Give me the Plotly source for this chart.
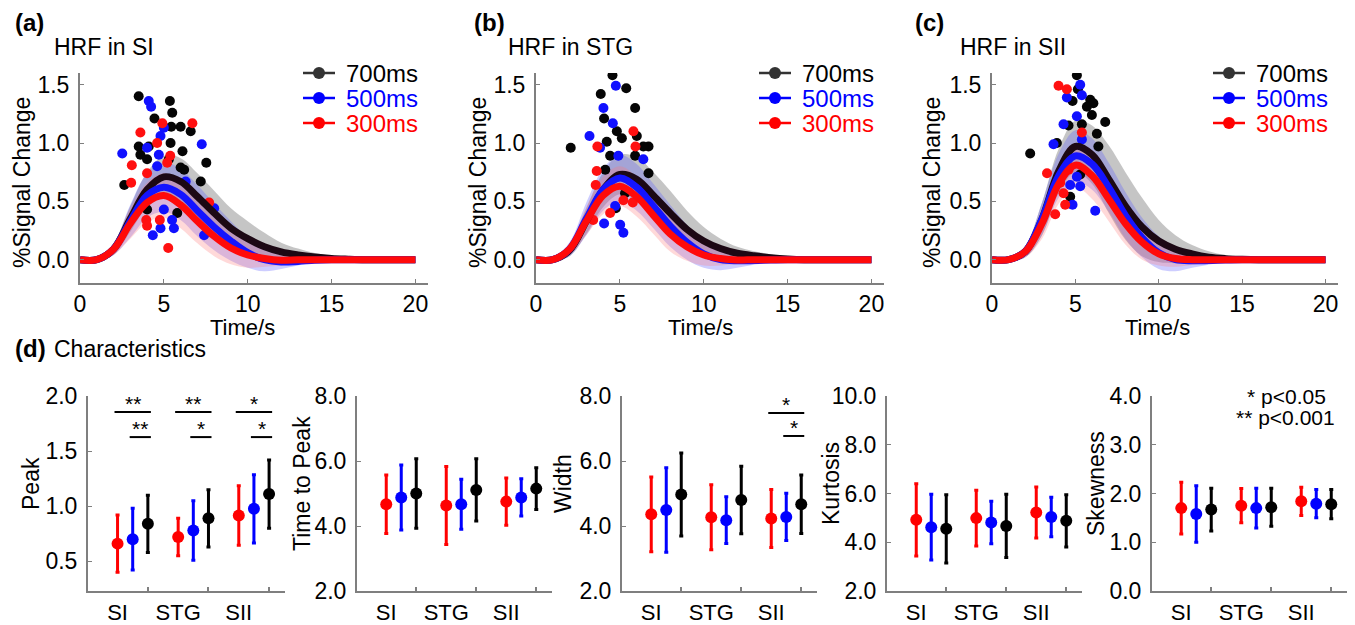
import plotly.graph_objects as go

W, H = 1355, 625
FONT = "Arial, Liberation Sans, Helvetica, sans-serif"


def px(x):
    return x / W


def py(y):
    return 1 - y / H


# ---------------- HRF time courses (top row) ----------------
time_s = list(range(0, 21))
conditions = ["700ms", "500ms", "300ms"]
regions = ["SI", "STG", "SII"]

SI_700_mean = [0, 0.0, 0.09, 0.35, 0.60, 0.71, 0.67, 0.54, 0.40, 0.27, 0.18, 0.11, 0.066, 0.04, 0.022, 0.01, 0.004, 0, 0, 0, 0]
SI_700_sd = [0, 0.01, 0.05, 0.11, 0.15, 0.18, 0.20, 0.20, 0.19, 0.17, 0.15, 0.12, 0.08, 0.055, 0.035, 0.022, 0.012, 0.006, 0, 0, 0]
SI_500_mean = [0, 0.0, 0.09, 0.33, 0.55, 0.62, 0.56, 0.42, 0.28, 0.16, 0.06, 0.0, -0.02, -0.015, -0.005, 0, 0, 0, 0, 0, 0]
SI_500_sd = [0.01, 0.02, 0.05, 0.14, 0.19, 0.21, 0.22, 0.22, 0.20, 0.17, 0.13, 0.10, 0.06, 0.035, 0.02, 0.01, 0.005, 0, 0, 0, 0]
SI_300_mean = [0, 0.0, 0.09, 0.31, 0.49, 0.55, 0.47, 0.33, 0.20, 0.10, 0.04, 0.01, -0.005, 0, 0, 0, 0, 0, 0, 0, 0]
SI_300_sd = [0, 0.01, 0.05, 0.13, 0.17, 0.19, 0.20, 0.19, 0.17, 0.14, 0.11, 0.07, 0.045, 0.025, 0.012, 0.005, 0, 0, 0, 0, 0]

STG_700_mean = [0, 0.0, 0.08, 0.33, 0.60, 0.73, 0.69, 0.55, 0.40, 0.26, 0.16, 0.095, 0.055, 0.033, 0.017, 0.006, 0, 0, 0, 0, 0]
STG_700_sd = [0, 0.01, 0.05, 0.11, 0.15, 0.17, 0.19, 0.20, 0.19, 0.16, 0.12, 0.085, 0.055, 0.04, 0.03, 0.02, 0.012, 0.006, 0, 0, 0]
STG_500_mean = [0, 0.0, 0.09, 0.35, 0.60, 0.70, 0.62, 0.46, 0.29, 0.15, 0.05, 0.0, -0.01, -0.008, -0.003, 0, 0, 0, 0, 0, 0]
STG_500_sd = [0.01, 0.02, 0.06, 0.14, 0.18, 0.20, 0.20, 0.19, 0.18, 0.15, 0.12, 0.09, 0.06, 0.035, 0.02, 0.01, 0, 0, 0, 0, 0]
STG_300_mean = [0, 0.0, 0.09, 0.33, 0.55, 0.63, 0.54, 0.38, 0.22, 0.11, 0.04, 0.01, -0.003, 0, 0, 0, 0, 0, 0, 0, 0]
STG_300_sd = [0, 0.01, 0.05, 0.12, 0.16, 0.17, 0.17, 0.16, 0.15, 0.12, 0.09, 0.06, 0.035, 0.02, 0.01, 0, 0, 0, 0, 0, 0]

SII_700_mean = [0, 0.0, 0.07, 0.35, 0.76, 0.97, 0.90, 0.69, 0.46, 0.28, 0.16, 0.09, 0.05, 0.022, 0.009, 0.003, 0, 0, 0, 0, 0]
SII_700_sd = [0, 0.01, 0.05, 0.14, 0.19, 0.22, 0.25, 0.29, 0.29, 0.25, 0.18, 0.12, 0.075, 0.05, 0.03, 0.018, 0.01, 0, 0, 0, 0]
SII_500_mean = [0, 0.0, 0.07, 0.35, 0.72, 0.89, 0.82, 0.62, 0.38, 0.19, 0.06, 0.0, -0.01, -0.008, -0.003, 0, 0, 0, 0, 0, 0]
SII_500_sd = [0.01, 0.02, 0.05, 0.14, 0.19, 0.22, 0.22, 0.21, 0.20, 0.17, 0.14, 0.10, 0.06, 0.035, 0.02, 0.01, 0, 0, 0, 0, 0]
SII_300_mean = [0, 0.0, 0.07, 0.31, 0.65, 0.81, 0.72, 0.52, 0.31, 0.15, 0.05, 0.01, 0, 0, 0, 0, 0, 0, 0, 0, 0]
SII_300_sd = [0, 0.01, 0.05, 0.13, 0.17, 0.19, 0.20, 0.19, 0.18, 0.15, 0.10, 0.07, 0.045, 0.025, 0.012, 0, 0, 0, 0, 0, 0]

# individual subject peaks (time to peak [s], peak [%])
SI_700_pts_t = [3.50, 5.36, 5.50, 4.44, 5.44, 6.00, 6.60, 3.50, 4.10, 5.40, 3.60, 4.00, 6.11, 6.00, 6.21, 7.53, 7.20, 2.64, 5.80, 4.00, 5.30]
SI_700_pts_v = [1.40, 1.36, 1.26, 1.21, 1.14, 1.14, 1.10, 0.97, 0.97, 1.00, 0.90, 0.86, 0.93, 0.79, 0.77, 0.83, 0.67, 0.64, 0.40, 0.43, 0.86]
SI_500_pts_t = [4.10, 4.24, 2.52, 5.00, 4.80, 4.70, 7.26, 4.60, 8.00, 7.40, 4.34, 4.80, 5.60, 5.49, 5.00, 6.30, 4.00]
SI_500_pts_v = [1.36, 1.31, 0.91, 1.13, 1.06, 0.90, 0.99, 0.80, 0.44, 0.21, 0.21, 0.27, 0.27, 0.34, 0.43, 0.67, 0.96]
SI_300_pts_t = [3.60, 3.09, 6.70, 4.91, 5.20, 5.38, 4.00, 3.05, 3.95, 4.00, 4.76, 5.26, 7.70, 4.60]
SI_300_pts_v = [1.09, 0.81, 1.17, 1.17, 0.83, 0.89, 0.74, 0.66, 0.34, 0.29, 0.34, 0.10, 0.49, 1.00]

STG_700_pts_t = [4.56, 5.38, 3.86, 5.91, 4.06, 2.07, 4.82, 5.12, 4.22, 6.01, 6.71, 6.40, 5.91, 4.42, 6.71, 4.13, 4.76, 5.31]
STG_700_pts_v = [1.58, 1.47, 1.42, 1.30, 1.21, 0.96, 1.10, 1.04, 1.01, 1.06, 0.97, 0.97, 0.89, 0.89, 0.74, 0.77, 0.44, 0.57]
STG_500_pts_t = [4.76, 4.02, 3.19, 4.58, 3.82, 4.91, 6.40, 4.06, 5.02, 5.21, 4.72]
STG_500_pts_v = [1.49, 1.30, 1.06, 1.17, 0.96, 0.89, 0.86, 0.31, 0.30, 0.23, 0.46]
STG_300_pts_t = [3.66, 5.81, 5.93, 3.56, 3.62, 3.41, 4.42, 5.21, 5.77]
STG_300_pts_v = [0.97, 1.10, 0.97, 0.64, 0.76, 0.34, 0.40, 0.51, 0.49]

SII_700_pts_t = [5.09, 5.15, 4.83, 5.89, 6.08, 5.69, 5.99, 4.59, 5.39, 6.79, 2.29, 3.89, 6.29, 6.38, 4.69, 5.29]
SII_700_pts_v = [1.58, 1.46, 1.36, 1.37, 1.34, 1.31, 1.24, 1.15, 1.16, 1.18, 0.91, 1.00, 1.08, 0.97, 0.54, 0.73]
SII_500_pts_t = [5.29, 4.49, 5.39, 4.29, 5.09, 3.69, 5.39, 4.83, 6.19, 4.69, 5.09, 5.29]
SII_500_pts_v = [1.50, 1.39, 1.41, 1.16, 1.23, 0.99, 1.03, 0.47, 0.42, 0.64, 0.71, 0.63]
SII_300_pts_t = [3.99, 4.49, 3.30, 3.79, 4.39, 4.29, 4.09, 4.59, 5.39]
SII_300_pts_v = [1.49, 1.46, 0.74, 0.39, 0.47, 0.57, 0.66, 0.77, 1.09]

hrf_mean = {
    "SI": [SI_700_mean, SI_500_mean, SI_300_mean],
    "STG": [STG_700_mean, STG_500_mean, STG_300_mean],
    "SII": [SII_700_mean, SII_500_mean, SII_300_mean],
}
hrf_sd = {
    "SI": [SI_700_sd, SI_500_sd, SI_300_sd],
    "STG": [STG_700_sd, STG_500_sd, STG_300_sd],
    "SII": [SII_700_sd, SII_500_sd, SII_300_sd],
}
hrf_pts = {
    "SI": [(SI_700_pts_t, SI_700_pts_v), (SI_500_pts_t, SI_500_pts_v), (SI_300_pts_t, SI_300_pts_v)],
    "STG": [(STG_700_pts_t, STG_700_pts_v), (STG_500_pts_t, STG_500_pts_v), (STG_300_pts_t, STG_300_pts_v)],
    "SII": [(SII_700_pts_t, SII_700_pts_v), (SII_500_pts_t, SII_500_pts_v), (SII_300_pts_t, SII_300_pts_v)],
}

# ---------------- characteristics (bottom row) ----------------
metrics = ["Peak", "Time to Peak", "Width", "Kurtosis", "Skewness"]

peak_300 = [0.66, 0.72, 0.915]
peak_300_sd = [0.26, 0.17, 0.27]
peak_500 = [0.70, 0.78, 0.976]
peak_500_sd = [0.28, 0.27, 0.31]
peak_700 = [0.84, 0.89, 1.11]
peak_700_sd = [0.26, 0.26, 0.31]

ttp_300 = [4.67, 4.63, 4.75]
ttp_300_sd = [0.90, 1.20, 0.73]
ttp_500 = [4.88, 4.67, 4.88]
ttp_500_sd = [1.00, 0.77, 0.57]
ttp_700 = [5.00, 5.11, 5.15]
ttp_700_sd = [1.07, 0.96, 0.64]

width_300 = [4.36, 4.27, 4.23]
width_300_sd = [1.15, 1.00, 0.89]
width_500 = [4.49, 4.18, 4.28]
width_500_sd = [1.30, 0.72, 0.73]
width_700 = [4.97, 4.80, 4.67]
width_700_sd = [1.28, 1.04, 0.90]

kurt_300 = [4.92, 4.99, 5.22]
kurt_300_sd = [1.48, 1.14, 1.05]
kurt_500 = [4.62, 4.81, 5.04]
kurt_500_sd = [1.35, 0.87, 0.81]
kurt_700 = [4.55, 4.67, 4.88]
kurt_700_sd = [1.40, 1.30, 1.07]

skew_300 = [1.70, 1.75, 1.84]
skew_300_sd = [0.53, 0.35, 0.29]
skew_500 = [1.58, 1.70, 1.79]
skew_500_sd = [0.58, 0.41, 0.29]
skew_700 = [1.67, 1.72, 1.78]
skew_700_sd = [0.44, 0.39, 0.30]

metric_data = {
    "Peak": [(peak_300, peak_300_sd), (peak_500, peak_500_sd), (peak_700, peak_700_sd)],
    "Time to Peak": [(ttp_300, ttp_300_sd), (ttp_500, ttp_500_sd), (ttp_700, ttp_700_sd)],
    "Width": [(width_300, width_300_sd), (width_500, width_500_sd), (width_700, width_700_sd)],
    "Kurtosis": [(kurt_300, kurt_300_sd), (kurt_500, kurt_500_sd), (kurt_700, kurt_700_sd)],
    "Skewness": [(skew_300, skew_300_sd), (skew_500, skew_500_sd), (skew_700, skew_700_sd)],
}
metric_ticks = {
    "Peak": [0.5, 1.0, 1.5, 2.0],
    "Time to Peak": [2.0, 4.0, 6.0, 8.0],
    "Width": [2.0, 4.0, 6.0, 8.0],
    "Kurtosis": [2.0, 4.0, 6.0, 8.0, 10.0],
    "Skewness": [0.0, 1.0, 2.0, 3.0, 4.0],
}
metric_range = {
    "Peak": [0.23, 2.0],
    "Time to Peak": [2.0, 8.0],
    "Width": [2.0, 8.0],
    "Kurtosis": [2.0, 10.0],
    "Skewness": [0.0, 4.0],
}
# significance: (metric, region index, comparison, label)
sig_marks = [
    ("Peak", 0, "300-700", "**"), ("Peak", 0, "500-700", "**"),
    ("Peak", 1, "300-700", "**"), ("Peak", 1, "500-700", "*"),
    ("Peak", 2, "300-700", "*"), ("Peak", 2, "500-700", "*"),
    ("Width", 2, "300-700", "*"), ("Width", 2, "500-700", "*"),
]
bracket_level = {
    ("Peak", "300-700"): 1.855, ("Peak", "500-700"): 1.627,
    ("Width", "300-700"): 7.48, ("Width", "500-700"): 6.77,
}

# ---------------- styling ----------------
line_col = ["#1c0814", "#1414ff", "#ff0a0a"]       # 700, 500, 300
pt_col = ["#050505", "#1010ff", "#ff1010"]
band_col = ["rgba(140,140,140,0.5)", "rgba(90,90,255,0.3)", "rgba(255,120,120,0.28)"]
leg_sym_col = ["#333333", "#0000ff", "#ff0000"]
leg_txt_col = ["#000000", "#0000ff", "#ff0000"]
cond_col_bottom = {"300": "#ff0000", "500": "#0000ff", "700": "#000000"}
cond_offset = {"300": 0, "500": 1, "700": 2}
AX_COL = "#7f7f7f"

top_dom = [(80, 428), (536, 884), (992, 1338)]
top_y = (73, 283)
top_labels = [("(a)", 13, 52), ("(b)", 472, 506), ("(c)", 913, 958)]
top_ytitle_x = [22, 478, 932]
top_xtitle_x = [242, 700, 1157]

bot_dom = [(88, 285), (357, 552), (622, 817), (887, 1082), (1152, 1347)]
bot_y = (396, 591)
bot_ytitle_x = [31, 302, 563, 831, 1096]

fig = go.Figure()
layout = dict(
    width=W, height=H, margin=dict(l=0, r=0, t=0, b=0, pad=0, autoexpand=False),
    paper_bgcolor="white", plot_bgcolor="white", showlegend=False,
    font=dict(family=FONT, size=23, color="black"),
)
annotations = []
shapes = []

# ----- top row -----
for i, reg in enumerate(regions):
    xa = "x" if i == 0 else f"x{i + 1}"
    ya = "y" if i == 0 else f"y{i + 1}"
    means = hrf_mean[reg]
    sds = hrf_sd[reg]
    # bands
    for c in range(3):
        lo = [m - s for m, s in zip(means[c], sds[c])]
        hi = [m + s for m, s in zip(means[c], sds[c])]
        fig.add_trace(go.Scatter(x=time_s, y=lo, mode="lines", line=dict(width=0, shape="spline"),
                                 xaxis=xa, yaxis=ya, hoverinfo="skip"))
        fig.add_trace(go.Scatter(x=time_s, y=hi, mode="lines", line=dict(width=0, shape="spline"),
                                 fill="tonexty", fillcolor=band_col[c], xaxis=xa, yaxis=ya, hoverinfo="skip"))
    # subject points
    for c in range(3):
        tt, vv = hrf_pts[reg][c]
        fig.add_trace(go.Scatter(x=tt, y=vv, mode="markers",
                                 marker=dict(size=10, color=pt_col[c], line=dict(width=0)),
                                 xaxis=xa, yaxis=ya))
    # mean lines
    for c in range(3):
        fig.add_trace(go.Scatter(x=time_s, y=means[c], mode="lines",
                                 line=dict(width=7, color=line_col[c], shape="spline"),
                                 xaxis=xa, yaxis=ya, name=conditions[c]))

    d0, d1 = top_dom[i]
    layout["xaxis" if i == 0 else f"xaxis{i + 1}"] = dict(
        domain=[px(d0), px(d1)], range=[0, 20.75], anchor=ya, automargin=False,
        tickvals=[0, 5, 10, 15, 20], ticks="inside", ticklen=4, tickcolor=AX_COL,
        showline=True, linecolor=AX_COL, linewidth=2, showgrid=False, zeroline=False,
        tickfont=dict(size=23), ticklabelstandoff=-1,
    )
    layout["yaxis" if i == 0 else f"yaxis{i + 1}"] = dict(
        domain=[py(top_y[1]), py(top_y[0])], range=[-0.2, 1.6], anchor=xa, automargin=False,
        tickvals=[0, 0.5, 1.0, 1.5], tickformat=".1f", ticks="inside", ticklen=4, tickcolor=AX_COL,
        showline=True, linecolor=AX_COL, linewidth=2, showgrid=False, zeroline=False,
        tickfont=dict(size=23), ticklabelstandoff=4,
    )
    lab, lx, tx = top_labels[i]
    annotations.append(dict(text=f"<b>{lab}</b>", x=px(lx), y=py(22), xref="paper", yref="paper",
                            xanchor="left", yanchor="middle", showarrow=False, font=dict(size=24)))
    annotations.append(dict(text=f"HRF in {reg}", x=px(tx), y=py(47), xref="paper", yref="paper",
                            xanchor="left", yanchor="middle", showarrow=False, font=dict(size=23)))
    annotations.append(dict(text="%Signal Change", x=px(top_ytitle_x[i]), y=py(183), xref="paper",
                            yref="paper", textangle=-90, xanchor="center", yanchor="middle",
                            showarrow=False, font=dict(size=23)))
    annotations.append(dict(text="Time/s", x=px(top_xtitle_x[i]), y=py(327), xref="paper", yref="paper",
                            xanchor="center", yanchor="middle", showarrow=False, font=dict(size=22)))
    # manual legend (symbol line + dot, coloured label)
    lx0 = d1 - 125
    for c in range(3):
        yy = 73 + 25 * c
        shapes.append(dict(type="line", xref="paper", yref="paper", x0=px(lx0), x1=px(lx0 + 32),
                           y0=py(yy), y1=py(yy), line=dict(color=leg_sym_col[c], width=2.5)))
        shapes.append(dict(type="circle", xref="paper", yref="paper", x0=px(lx0 + 10), x1=px(lx0 + 22),
                           y0=py(yy + 6), y1=py(yy - 6), fillcolor=leg_sym_col[c],
                           line=dict(color=leg_sym_col[c], width=0)))
        annotations.append(dict(text=conditions[c], x=px(lx0 + 42), y=py(yy), xref="paper", yref="paper",
                                xanchor="left", yanchor="middle", showarrow=False, height=24,
                                valign="middle", borderpad=0,
                                font=dict(size=24, color=leg_txt_col[c])))

# ----- bottom row -----
for j, met in enumerate(metrics):
    k = j + 4
    xa, ya = f"x{k}", f"y{k}"
    for ci, cond in enumerate(["300", "500", "700"]):
        vals, sds = metric_data[met][ci]
        xs = [4 * g + cond_offset[cond] for g in range(len(regions))]
        col = cond_col_bottom[cond]
        fig.add_trace(go.Scatter(
            x=xs, y=vals, mode="markers", xaxis=xa, yaxis=ya,
            marker=dict(size=12, color=col),
            error_y=dict(type="data", array=sds, visible=True, thickness=3, width=2, color=col),
        ))
    d0, d1 = bot_dom[j]
    layout[f"xaxis{k}"] = dict(
        domain=[px(d0), px(d1)], range=[-1.95, 11.05], anchor=ya, automargin=False,
        tickvals=[4 * g for g in range(3)], ticktext=regions, ticks="",
        minor=dict(tickmode="array", tickvals=[4 * g + 2 for g in range(3)], ticks="inside",
                   ticklen=4, tickcolor=AX_COL, tickwidth=1.5),
        showline=True, linecolor=AX_COL, linewidth=2, showgrid=False, zeroline=False,
        tickfont=dict(size=22), ticklabelstandoff=1,
    )
    layout[f"yaxis{k}"] = dict(
        domain=[py(bot_y[1]), py(bot_y[0])], range=metric_range[met], anchor=xa, automargin=False,
        tickvals=metric_ticks[met], tickformat=".1f", ticks="inside", ticklen=4, tickcolor=AX_COL,
        showline=True, linecolor=AX_COL, linewidth=2, showgrid=False, zeroline=False,
        tickfont=dict(size=23), ticklabelstandoff=4,
    )
    annotations.append(dict(text=met, x=px(bot_ytitle_x[j]), y=py(484), xref="paper", yref="paper",
                            textangle=-90, xanchor="center", yanchor="middle", showarrow=False,
                            font=dict(size=23)))

# significance brackets
for met, g, comp, lab in sig_marks:
    k = metrics.index(met) + 4
    a, b = comp.split("-")
    x0 = 4 * g + cond_offset[a] - 0.2
    x1 = 4 * g + cond_offset[b] + 0.2
    lvl = bracket_level[(met, comp)]
    shapes.append(dict(type="line", xref=f"x{k}", yref=f"y{k}", x0=x0, x1=x1, y0=lvl, y1=lvl,
                       line=dict(color="black", width=2)))
    annotations.append(dict(text=lab, x=(x0 + x1) / 2, y=lvl, xref=f"x{k}", yref=f"y{k}",
                            xanchor="center", yanchor="bottom", yshift=-5, showarrow=False,
                            font=dict(size=21)))

annotations.append(dict(text="<b>(d)</b>", x=px(13), y=py(348), xref="paper", yref="paper",
                        xanchor="left", yanchor="middle", showarrow=False, font=dict(size=24)))
annotations.append(dict(text="Characteristics", x=px(52), y=py(349), xref="paper", yref="paper",
                        xanchor="left", yanchor="middle", showarrow=False, font=dict(size=23)))
annotations.append(dict(text="* p<0.05", x=px(1286), y=py(396), xref="paper", yref="paper",
                        xanchor="center", yanchor="middle", showarrow=False, font=dict(size=21)))
annotations.append(dict(text="** p<0.001", x=px(1285), y=py(418), xref="paper", yref="paper",
                        xanchor="center", yanchor="middle", showarrow=False, font=dict(size=21)))

layout["annotations"] = annotations
layout["shapes"] = shapes
fig.update_layout(**layout)
# remove the default 8px page margin so the 1355x625 figure fills the window exactly
fig.write_html("out.html", config={"displayModeBar": False},
               post_script="document.body.style.margin='0';document.body.style.overflow='hidden';")
